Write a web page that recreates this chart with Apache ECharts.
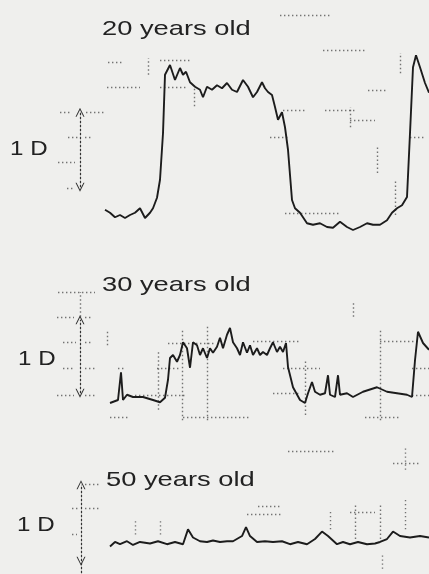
<!DOCTYPE html>
<html>
<head>
<meta charset="utf-8">
<script src="https://cdn.jsdelivr.net/npm/echarts@6/dist/echarts.min.js"></script>
<style>html,body{margin:0;padding:0;background:#efefed;}#c{width:429px;height:574px;}</style>
</head>
<body>
<div id="c"></div>
<script>
// Time (s) and accommodation (D) read from the recordings
const time20 = [0.05,0.3,0.55,0.8,1.05,1.3,1.55,1.8,2.05,2.3,2.45,2.65,2.8,2.95,3.05,3.3,3.55,3.8,3.95,4.1,4.3,4.55,4.8,4.95,5.15,5.4,5.65,5.9,6.15,6.4,6.65,6.95,7.2,7.45,7.65,7.9,8.05,8.2,8.4,8.55,8.7,8.9,9.05,9.2,9.4,9.55,9.8,10.15,10.45,10.8,11.15,11.45,11.8,12.15,12.45,12.8,13.15,13.45,13.8,14.15,14.4,14.65,14.9,15.15,15.3,15.45,15.6,15.8,16.05,16.25];
const acc20  = [0.07,0.03,-0.03,0,-0.04,0,0.03,0.09,-0.04,0.03,0.09,0.23,0.47,1.09,1.87,2.0,1.8,1.96,1.87,1.91,1.77,1.71,1.67,1.57,1.71,1.67,1.73,1.69,1.76,1.67,1.64,1.8,1.71,1.57,1.64,1.77,1.69,1.64,1.6,1.44,1.27,1.37,1.17,0.87,0.2,0.09,0.03,-0.11,-0.13,-0.11,-0.16,-0.17,-0.09,-0.16,-0.2,-0.16,-0.11,-0.13,-0.13,-0.07,0.03,0.09,0.13,0.24,1.09,1.97,2.13,1.97,1.76,1.63];

const time30 = [0.3,0.7,0.85,0.95,1.15,1.45,1.95,2.45,2.8,3.05,3.2,3.3,3.45,3.65,3.8,3.95,4.15,4.3,4.45,4.65,4.8,4.95,5.15,5.3,5.45,5.65,5.8,5.95,6.15,6.3,6.45,6.65,6.8,6.95,7.15,7.3,7.45,7.65,7.8,7.95,8.15,8.3,8.45,8.65,8.8,8.95,9.1,9.2,9.45,9.8,10.05,10.2,10.4,10.55,10.8,11.05,11.2,11.3,11.55,11.7,11.8,12.15,12.45,12.95,13.65,14.15,14.65,15.15,15.4,15.55,15.7,15.95,16.25];
const acc30  = [-0.08,-0.04,0.33,-0.04,0.03,0,0,-0.04,-0.07,-0.01,0.23,0.52,0.56,0.47,0.56,0.73,0.65,0.39,0.73,0.69,0.56,0.65,0.52,0.65,0.59,0.67,0.79,0.65,0.83,0.92,0.73,0.65,0.56,0.73,0.59,0.69,0.56,0.65,0.56,0.6,0.56,0.65,0.73,0.6,0.67,0.6,0.72,0.4,0.13,-0.04,-0.08,0.05,0.2,0.07,0.03,0.05,0.29,0.03,0,0.29,0.03,0.05,0,0.07,0.13,0.07,0.05,0.03,0,0.49,0.87,0.72,0.63];

const time50 = [0.3,0.55,0.8,1.15,1.45,1.8,2.3,2.7,3.15,3.55,3.95,4.2,4.45,4.8,5.15,5.45,5.8,6.15,6.45,6.9,7.1,7.3,7.65,8.05,8.45,8.9,9.3,9.7,10.15,10.55,10.9,11.2,11.65,11.95,12.3,12.7,13.15,13.55,13.8,14.15,14.45,14.8,15.3,15.8,16.25];
const acc50  = [-0.03,0.03,0,0.04,-0.01,0.03,0.01,0.04,0,0.03,0,0.2,0.09,0.04,0.03,0.05,0.03,0.04,0.04,0.11,0.23,0.11,0.03,0.04,0.03,0.04,0,0.03,0,0.07,0.17,0.11,0,0.03,0,0.03,0,0.01,0.03,0.07,0.17,0.11,0.09,0.11,0.09];

// Panel labels
const panelTitles = ['20 years old', '30 years old', '50 years old'];
const scaleLabel = '1 D';

// 1 D scale bars: [time, bottom D, top D]
const bar20 = [-1.2, 0.37, 1.37];
const bar30 = [-1.2, 0.05, 1.03];
const bar50 = [-1.15, -0.23, 0.8];
const tail50 = [-1.15, -0.39, -0.23];

// dotted recorder-grid remnants: horizontal [t1, t2, D], vertical [t, D1, D2]
const dots20H = [[0.2,0.9,2.04],[0.15,1.8,1.71],[2.8,4.3,2.07],[2.8,4.15,1.71],[-2.2,-1.6,1.37],[-0.9,0.05,1.37],[-1.8,-1.3,1.04],[-0.95,-0.6,1.04],[-2.3,-1.45,0.71],[-1.85,-1.45,0.36],[8.8,11.3,2.67],[10.95,13.05,2.2],[8.95,10.05,1.4],[11.05,12.55,1.4],[8.3,9.3,1.04],[9.05,11.8,0.03],[15.3,16.05,1.04],[12.3,13.55,1.27],[13.2,14.2,1.67]];
const dots20V = [[2.2,1.87,2.09],[14.8,1.89,2.16],[14.55,0,0.47],[13.65,0.56,0.91],[12.3,1.17,1.44],[4.5,1.45,1.7]];
const dots30H = [[-2.3,-0.45,1.4],[-2.35,-1.5,1.07],[-0.95,-0.55,1.07],[-2.05,-1.4,0.73],[-0.95,-0.55,0.73],[-2.05,-1.5,0.39],[-0.95,-0.35,0.39],[-2.35,-1.5,0.03],[-0.95,-0.35,0.03],[0.7,1.05,0.39],[3.2,5.55,0.72],[2.65,3.8,0.39],[1.55,4.05,0.03],[7.45,9.8,0.75],[8.95,10.8,0.39],[8.45,9.8,0.05],[13.8,15.8,0.75],[15.4,16.25,0.03],[15.4,16.25,0.39],[0.3,1.3,-0.27],[3.95,7.3,-0.27],[13.05,14.8,-0.27]];
const dots30V = [[-1.2,1.07,1.4],[0.15,0.69,0.89],[2.7,-0.17,0.63],[3.9,-0.31,0.89],[5.15,-0.31,0.96],[10.05,-0.24,0.49],[13.8,-0.31,0.89],[12.45,1.07,1.25]];
const dots50H = [[-0.95,-0.2,0.8],[-1.6,-1.3,0.48],[-0.95,-0.2,0.48],[-1.6,-1.35,0.13],[7.15,8.95,0.4],[7.7,8.8,0.51],[12.3,13.55,0.43],[14.45,15.8,1.09],[9.2,11.5,1.25]];
const dots50V = [[11.3,0.2,0.47],[12.55,0.07,0.53],[13.8,0.07,0.53],[15.05,0.2,0.6],[1.55,0.13,0.33],[2.8,0.13,0.33],[13.9,-0.33,-0.13],[15.05,1.0,1.3]];

const chart = echarts.init(document.getElementById('c'), null, {renderer: 'canvas'});

const zip = (ts, vs) => ts.map((t, i) => [t, vs[i]]);
const segs = (H, V) => H.map(h => ({coords: [[h[0], h[2]], [h[1], h[2]]]}))
  .concat(V.map(v => ({coords: [[v[0], v[1]], [v[0], v[2]]]})));

const grids = [
  {left: 0, right: 0, top: 5, height: 247.5},
  {left: 0, right: 0, top: 277, height: 150},
  {left: 0, right: 0, top: 440, height: 135}
];
const yRanges = [[-0.5, 2.8], [-0.4, 1.6], [-0.4, 1.4]];
const traces = [zip(time20, acc20), zip(time30, acc30), zip(time50, acc50)];
const dots = [segs(dots20H, dots20V), segs(dots30H, dots30V), segs(dots50H, dots50V)];
const bars = [bar20, bar30, bar50];

const arrowHead = 'path://M5,0L10,9L8.8,9L5,2.2L1.2,9L0,9Z';

const series = [];
for (let i = 0; i < 3; i++) {
  series.push({
    type: 'lines', coordinateSystem: 'cartesian2d', xAxisIndex: i, yAxisIndex: i,
    data: dots[i], symbol: ['none', 'none'], silent: true,
    lineStyle: {color: '#4a4a4a', width: 1.4, type: [1.4, 2.6], opacity: 0.75}
  });
  const b = bars[i];
  series.push({
    type: 'lines', coordinateSystem: 'cartesian2d', xAxisIndex: i, yAxisIndex: i,
    data: [{coords: [[b[0], b[1]], [b[0], b[2]]]}],
    symbol: [arrowHead, arrowHead], symbolSize: 9, silent: true,
    lineStyle: {color: '#333', width: 1.2, type: [2.5, 1.5], opacity: 1}
  });
  series.push({
    type: 'line', xAxisIndex: i, yAxisIndex: i, data: traces[i],
    showSymbol: false, symbol: 'none', smooth: false, silent: true,
    lineStyle: {color: '#1c1c1c', width: 1.9}
  });
}
series.push({
  type: 'lines', coordinateSystem: 'cartesian2d', xAxisIndex: 2, yAxisIndex: 2,
  data: [{coords: [[tail50[0], tail50[1]], [tail50[0], tail50[2]]]}],
  symbol: ['none', 'none'], silent: true,
  lineStyle: {color: '#333', width: 1.2, type: [2.5, 1.5], opacity: 1}
});

const titlePos = [[102, 29.5], [102, 285.5], [106, 480]];
const scalePos = [[10, 149.5], [18, 359.5], [17, 525]];
const graphic = [];
for (let i = 0; i < 3; i++) {
  graphic.push({
    type: 'text', x: titlePos[i][0], y: titlePos[i][1], scaleX: 1.3, silent: true,
    style: {text: panelTitles[i], fill: '#222', font: '21px "Liberation Sans", Arial, sans-serif', textVerticalAlign: 'middle', textAlign: 'left'}
  });
  graphic.push({
    type: 'text', x: scalePos[i][0], y: scalePos[i][1], scaleX: 1.15, silent: true,
    style: {text: scaleLabel, fill: '#222', font: '21px "Liberation Sans", Arial, sans-serif', textVerticalAlign: 'middle', textAlign: 'left'}
  });
}

chart.setOption({
  backgroundColor: '#efefed',
  animation: false,
  grid: grids,
  xAxis: [0, 1, 2].map(i => ({type: 'value', gridIndex: i, min: -5.2, max: 16.25, show: false})),
  yAxis: [0, 1, 2].map(i => ({type: 'value', gridIndex: i, min: yRanges[i][0], max: yRanges[i][1], show: false})),
  series: series,
  graphic: graphic
});
</script>
</body>
</html>
